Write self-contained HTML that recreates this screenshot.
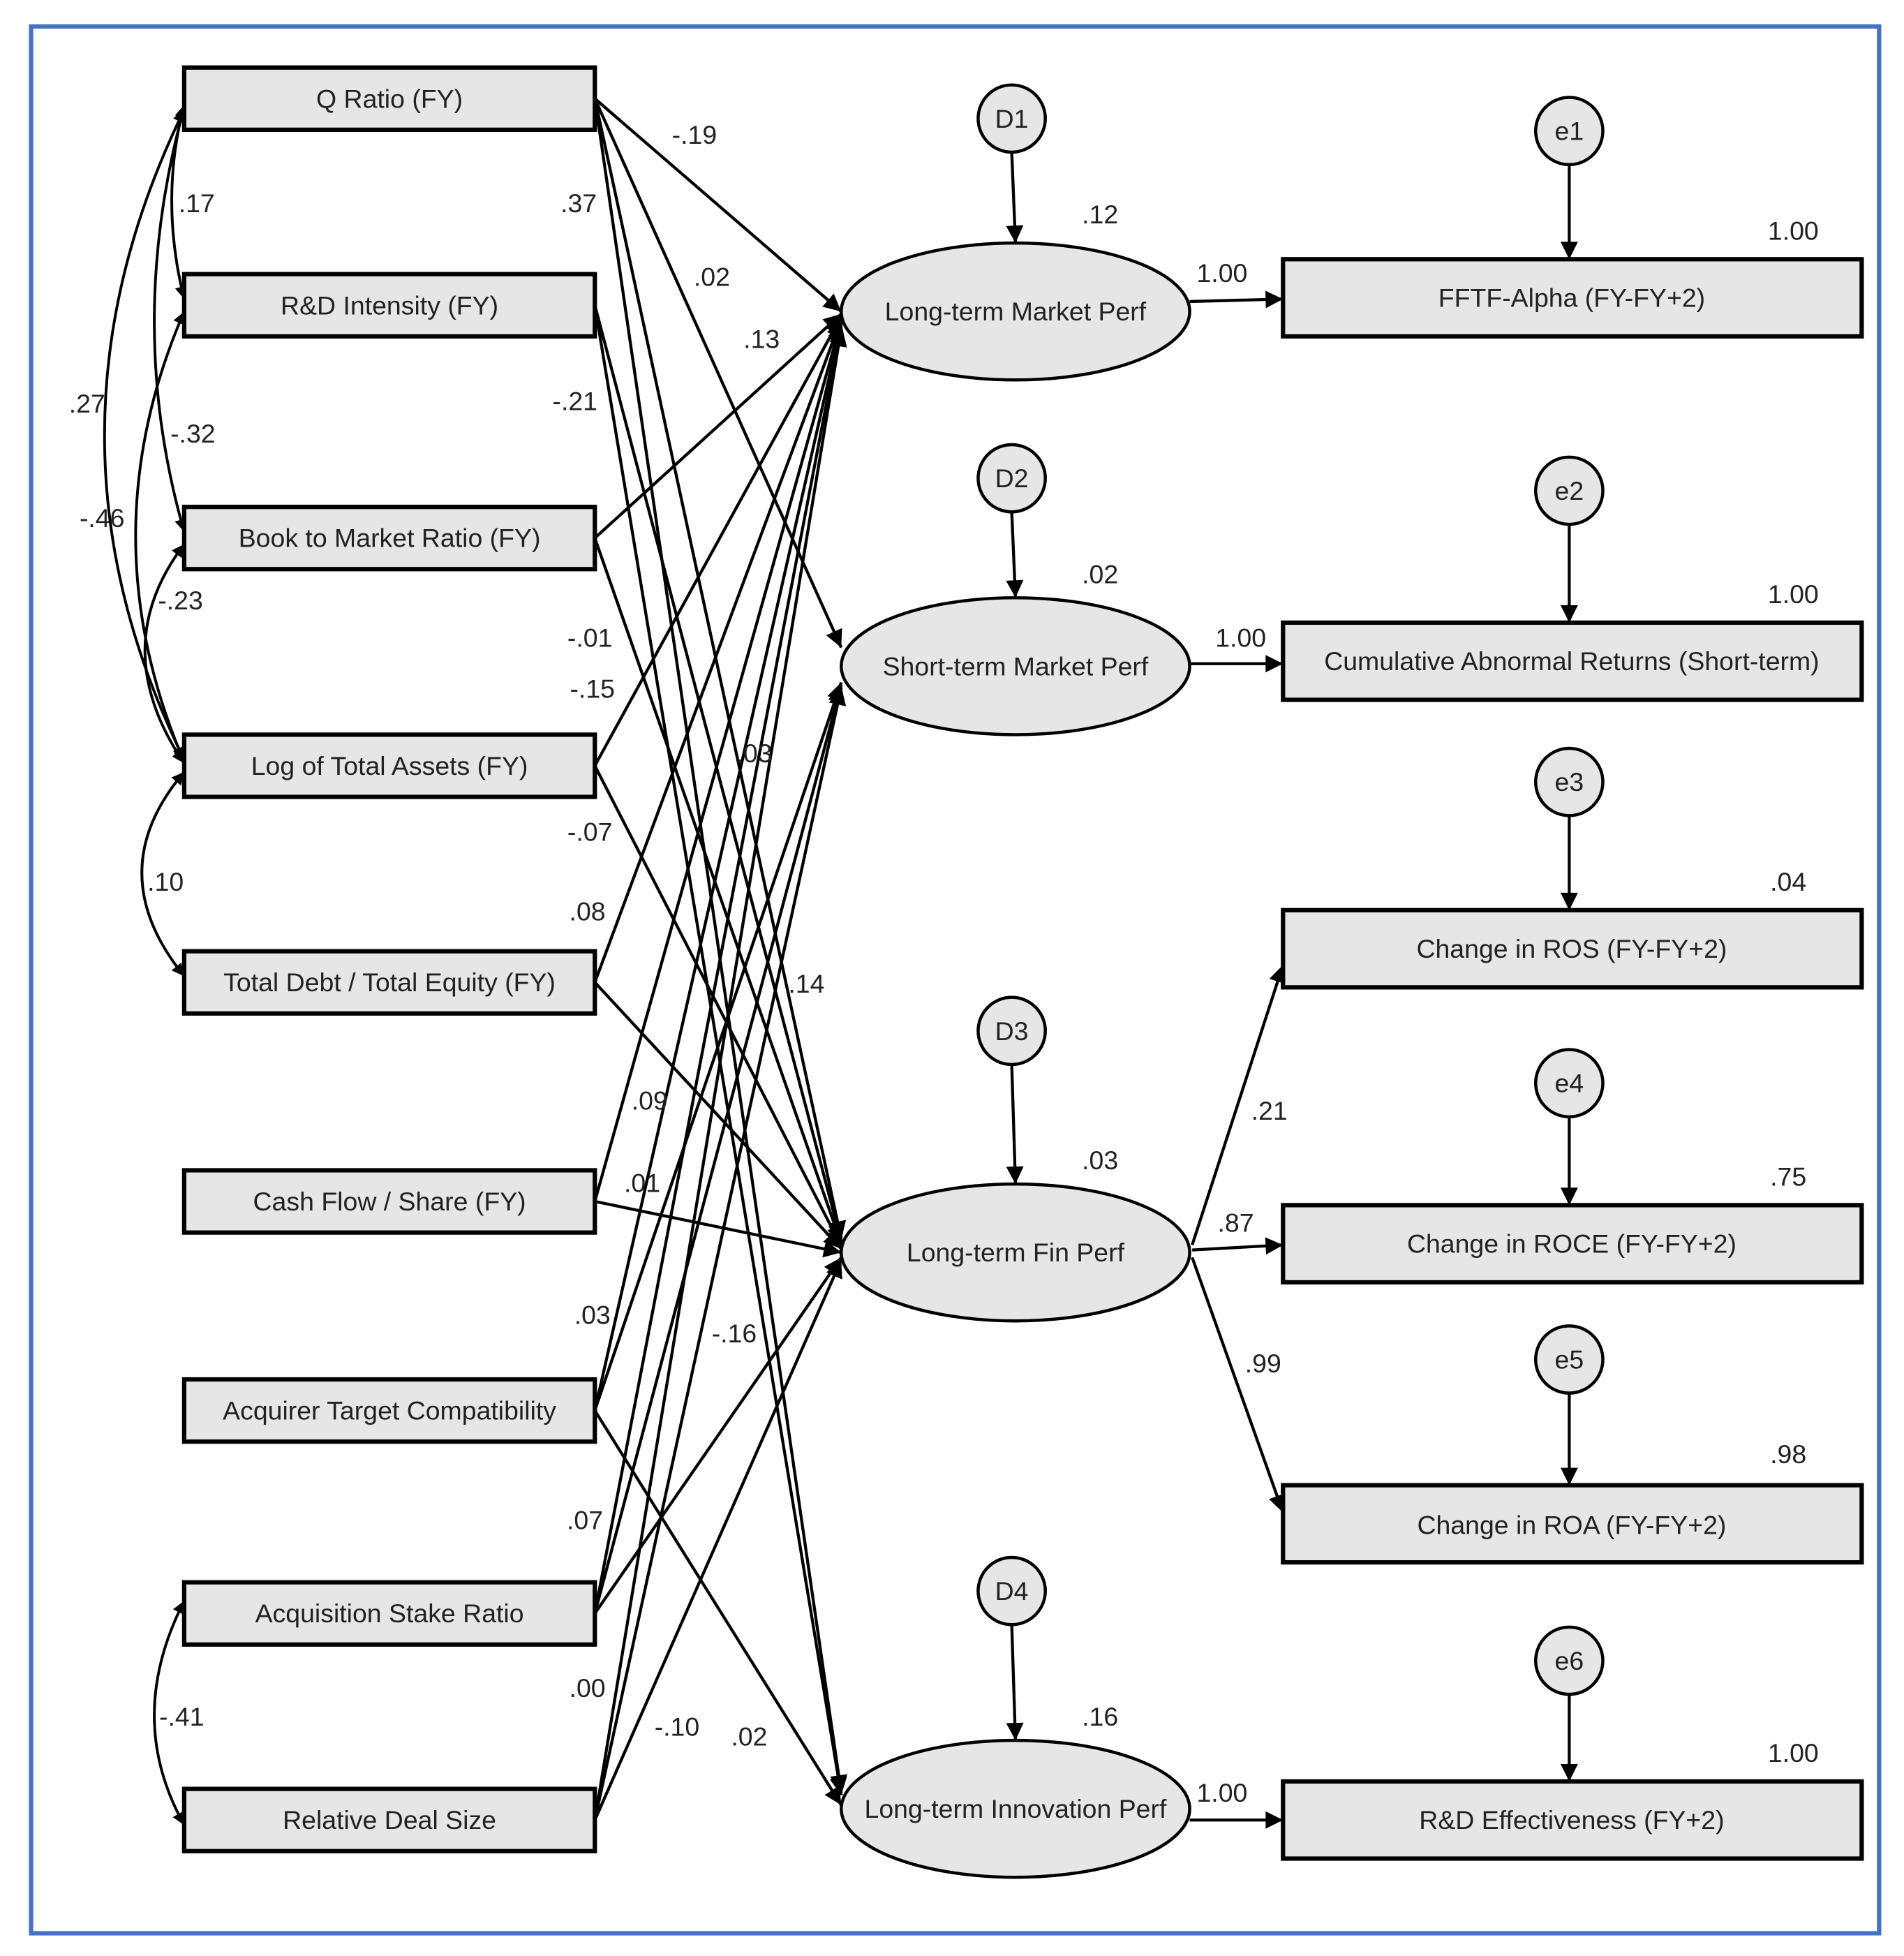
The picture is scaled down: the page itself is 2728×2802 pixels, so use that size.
<!DOCTYPE html>
<html><head><meta charset="utf-8"><style>
html,body{margin:0;padding:0;background:#fff}
svg{display:block}
text{font-family:"Liberation Sans",Arial,sans-serif;fill:#222}
</style></head><body>
<svg width="2728" height="2802" viewBox="0 0 1530 1571" xmlns="http://www.w3.org/2000/svg">
<defs>
<marker id="a" viewBox="0 0 10 10" refX="10" refY="5" markerWidth="13" markerHeight="10" markerUnits="userSpaceOnUse" orient="auto-start-reverse"><path d="M0,0L10,5L0,10z" fill="#000"/></marker>
<marker id="b" viewBox="0 0 10 10" refX="10" refY="5" markerWidth="24" markerHeight="14" markerUnits="userSpaceOnUse" orient="auto-start-reverse"><path d="M0,0L10,5L0,10z" fill="#000"/></marker>
</defs>
<rect x="25" y="21" width="1485" height="1532" fill="#fff" stroke="#4472C4" stroke-width="3.5"/>
<g stroke="#000" stroke-width="2.4" fill="none" marker-end="url(#b)">
<line x1="478" y1="79" x2="676" y2="250"/>
<line x1="478" y1="432" x2="676" y2="252"/>
<line x1="478" y1="615" x2="676" y2="254"/>
<line x1="478" y1="789" x2="676" y2="256"/>
<line x1="478" y1="965" x2="676" y2="258"/>
<line x1="478" y1="1133" x2="676" y2="260"/>
<line x1="478" y1="1296" x2="676" y2="262"/>
<line x1="478" y1="1462" x2="676" y2="264"/>
<line x1="478" y1="79" x2="676" y2="520"/>
<line x1="478" y1="1133" x2="676" y2="548"/>
<line x1="478" y1="1296" x2="676" y2="550"/>
<line x1="478" y1="1462" x2="676" y2="552"/>
<line x1="478" y1="79" x2="676" y2="995"/>
<line x1="478" y1="245" x2="676" y2="997"/>
<line x1="478" y1="432" x2="676" y2="999"/>
<line x1="478" y1="615" x2="676" y2="1001"/>
<line x1="478" y1="789" x2="676" y2="1003"/>
<line x1="478" y1="965" x2="676" y2="1006"/>
<line x1="478" y1="1296" x2="676" y2="1010"/>
<line x1="478" y1="1462" x2="676" y2="1012"/>
<line x1="478" y1="79" x2="676" y2="1440"/>
<line x1="478" y1="245" x2="676" y2="1442"/>
<line x1="478" y1="1133" x2="676" y2="1450"/>
</g>
<g stroke="#000" stroke-width="2.2" fill="none" marker-end="url(#a)" marker-start="url(#a)">
<path d="M148,84 Q128,160 148,240"/>
<path d="M148,86 Q100,260 148,427"/>
<path d="M148,88 Q20,350 148,610"/>
<path d="M148,250 Q70,430 148,612"/>
<path d="M148,437 Q85,520 148,613"/>
<path d="M148,620 Q80,700 148,784"/>
<path d="M148,1286 Q100,1380 148,1466"/>
</g>
<g stroke="#000" stroke-width="2.4" fill="none" marker-end="url(#b)">
<line x1="813" y1="122" x2="816" y2="195"/>
<line x1="813" y1="411" x2="816" y2="480"/>
<line x1="813" y1="855" x2="816" y2="951"/>
<line x1="813" y1="1305" x2="816" y2="1398"/>
<line x1="1261" y1="132" x2="1261" y2="208"/>
<line x1="1261" y1="421" x2="1261" y2="500"/>
<line x1="1261" y1="655" x2="1261" y2="731"/>
<line x1="1261" y1="897" x2="1261" y2="968"/>
<line x1="1261" y1="1119" x2="1261" y2="1193"/>
<line x1="1261" y1="1361" x2="1261" y2="1431"/>
<line x1="956" y1="242" x2="1031" y2="240"/>
<line x1="956" y1="533" x2="1031" y2="533"/>
<line x1="956" y1="1462" x2="1031" y2="1462"/>
<line x1="958" y1="1000" x2="1031" y2="775"/>
<line x1="958" y1="1004" x2="1031" y2="1000"/>
<line x1="958" y1="1010" x2="1031" y2="1215"/>
</g>
<g fill="#e6e6e6" stroke="#000" stroke-width="3.5">
<rect x="148" y="54" width="330" height="50"/>
<rect x="148" y="220" width="330" height="50"/>
<rect x="148" y="407" width="330" height="50"/>
<rect x="148" y="590" width="330" height="50"/>
<rect x="148" y="764" width="330" height="50"/>
<rect x="148" y="940" width="330" height="50"/>
<rect x="148" y="1108" width="330" height="50"/>
<rect x="148" y="1271" width="330" height="50"/>
<rect x="148" y="1437" width="330" height="50"/>
<rect x="1031" y="208" width="465" height="62"/>
<rect x="1031" y="500" width="465" height="62"/>
<rect x="1031" y="731" width="465" height="62"/>
<rect x="1031" y="968" width="465" height="62"/>
<rect x="1031" y="1193" width="465" height="62"/>
<rect x="1031" y="1431" width="465" height="62"/>
</g>
<g fill="#e6e6e6" stroke="#000" stroke-width="2.5">
<ellipse cx="816" cy="250" rx="140" ry="55"/>
<ellipse cx="816" cy="535" rx="140" ry="55"/>
<ellipse cx="816" cy="1006" rx="140" ry="55"/>
<ellipse cx="816" cy="1453" rx="140" ry="55"/>
<circle cx="813" cy="95" r="27"/><circle cx="813" cy="384" r="27"/><circle cx="813" cy="828" r="27"/><circle cx="813" cy="1278" r="27"/>
<circle cx="1261" cy="105" r="27"/><circle cx="1261" cy="394" r="27"/><circle cx="1261" cy="628" r="27"/><circle cx="1261" cy="870" r="27"/><circle cx="1261" cy="1092" r="27"/><circle cx="1261" cy="1334" r="27"/>
</g>
<g font-size="21" text-anchor="middle" dominant-baseline="central">
<text x="313" y="79">Q Ratio (FY)</text>
<text x="313" y="245">R&amp;D Intensity (FY)</text>
<text x="313" y="432">Book to Market Ratio (FY)</text>
<text x="313" y="615">Log of Total Assets (FY)</text>
<text x="313" y="789">Total Debt / Total Equity (FY)</text>
<text x="313" y="965">Cash Flow / Share (FY)</text>
<text x="313" y="1133">Acquirer Target Compatibility</text>
<text x="313" y="1296">Acquisition Stake Ratio</text>
<text x="313" y="1462">Relative Deal Size</text>
<text x="1263" y="239">FFTF-Alpha (FY-FY+2)</text>
<text x="1263" y="531">Cumulative Abnormal Returns (Short-term)</text>
<text x="1263" y="762">Change in ROS (FY-FY+2)</text>
<text x="1263" y="999">Change in ROCE (FY-FY+2)</text>
<text x="1263" y="1225">Change in ROA (FY-FY+2)</text>
<text x="1263" y="1462">R&amp;D Effectiveness (FY+2)</text>
<text x="816" y="250">Long-term Market Perf</text>
<text x="816" y="535">Short-term Market Perf</text>
<text x="816" y="1006">Long-term Fin Perf</text>
<text x="816" y="1453">Long-term Innovation Perf</text>
<text x="813" y="95">D1</text><text x="813" y="384">D2</text><text x="813" y="828">D3</text><text x="813" y="1278">D4</text>
<text x="1261" y="105">e1</text><text x="1261" y="394">e2</text><text x="1261" y="628">e3</text><text x="1261" y="870">e4</text><text x="1261" y="1092">e5</text><text x="1261" y="1334">e6</text>
</g>
<g font-size="21" text-anchor="middle" dominant-baseline="central">
<text x="558" y="108">-.19</text><text x="465" y="163">.37</text><text x="572" y="222">.02</text><text x="612" y="272">.13</text>
<text x="462" y="322">-.21</text><text x="474" y="512">-.01</text><text x="476" y="553">-.15</text><text x="606" y="605">.03</text>
<text x="474" y="668">-.07</text><text x="472" y="732">.08</text><text x="648" y="790">.14</text><text x="522" y="884">.09</text>
<text x="516" y="950">.01</text><text x="476" y="1056">.03</text><text x="590" y="1071">-.16</text><text x="470" y="1221">.07</text>
<text x="472" y="1356">.00</text><text x="544" y="1387">-.10</text><text x="602" y="1395">.02</text>
<text x="158" y="163">.17</text><text x="70" y="324">.27</text><text x="155" y="348">-.32</text><text x="82" y="416">-.46</text>
<text x="145" y="482">-.23</text><text x="133" y="708">.10</text><text x="146" y="1379">-.41</text>
<text x="884" y="172">.12</text><text x="982" y="219">1.00</text><text x="1441" y="185">1.00</text>
<text x="884" y="461">.02</text><text x="997" y="512">1.00</text><text x="1441" y="477">1.00</text>
<text x="1437" y="708">.04</text><text x="884" y="932">.03</text><text x="1020" y="892">.21</text>
<text x="993" y="982">.87</text><text x="1437" y="945">.75</text><text x="1015" y="1095">.99</text>
<text x="1437" y="1168">.98</text><text x="884" y="1379">.16</text><text x="982" y="1440">1.00</text><text x="1441" y="1408">1.00</text>
</g>
</svg>
</body></html>
